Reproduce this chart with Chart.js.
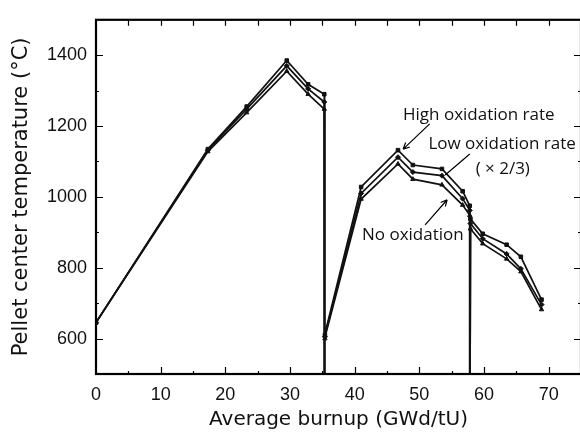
<!DOCTYPE html>
<html>
<head>
<meta charset="utf-8">
<script src="https://cdn.jsdelivr.net/npm/chart.js@4.4.0/dist/chart.umd.min.js"></script>
<style>
  html, body { margin: 0; padding: 0; overflow: hidden; background: #fff; }
  #wrap { position: absolute; left: 0; top: 0; }
</style>
</head>
<body>
<div id="wrap"><canvas id="chart1" width="586" height="435"></canvas></div>
<script>
// burnup (GWd/tU) and pellet center temperature (°C); 0 = shutdown at reload
const burnup = [0, 17.3, 23.3, 29.5, 32.8, 35.3, 35.3, 35.4, 41, 46.7, 49, 53.5, 56.7, 57.8, 57.8, 57.9, 59.8, 63.5, 65.7, 68.9];
const highOx = [645, 1135, 1255, 1385, 1318, 1290, 0, 610, 1028, 1132, 1090, 1079, 1016, 975, 0, 938, 896, 865, 831, 710];
const lowOx  = [645, 1132, 1248, 1370, 1305, 1268, 0, 605, 1010, 1112, 1070, 1060, 995, 962, 0, 925, 882, 839, 797, 696];
const noOx   = [645, 1128, 1238, 1355, 1290, 1248, 0, 600, 994, 1093, 1050, 1034, 977, 948, 0, 910, 868, 825, 789, 682];

const xTicks = [0, 10, 20, 30, 40, 50, 60, 70];
const yTicks = [600, 800, 1000, 1200, 1400];

// text notes in data units
const notes = [
  { text: 'High oxidation rate', x: 59.2, y: 1231 },
  { text: 'Low oxidation rate', x: 62.8, y: 1149 },
  { text: '( × 2/3)', x: 62.9, y: 1079 },
  { text: 'No oxidation', x: 49.0, y: 893 }
];
const arrows = [
  { from: [51.6, 1206], to: [47.5, 1135], head: true },
  { from: [57.8, 1121], to: [54.0, 1062], head: false },
  { from: [50.9, 921], to: [54.3, 992], head: true }
];

let pts = (ys) => burnup.map((b, i) => ({ x: b, y: ys[i] }));

let serie = (label, ys, style) => ({
  label: label,
  data: pts(ys),
  borderColor: '#111',
  backgroundColor: '#111',
  borderWidth: 1.7,
  pointStyle: style,
  pointRadius: 2.5,
  pointBorderWidth: 1,
  tension: 0
});

const frameTicks = {
  id: 'frameTicks',
  afterDatasetsDraw(chart) {
    const { ctx, chartArea: a, scales: { x, y } } = chart;
    ctx.save();
    ctx.strokeStyle = '#000';
    ctx.lineWidth = 1.2;
    ctx.beginPath();
    for (let v = 5; v < 75; v += 5) {
      const px = Math.round(x.getPixelForValue(v)) + 0.5;
      const len = v % 10 === 0 ? 7 : 3;
      ctx.moveTo(px, a.bottom); ctx.lineTo(px, a.bottom - len);
      ctx.moveTo(px, a.top); ctx.lineTo(px, a.top + 6);
    }
    for (let v = 600; v < 1500; v += 100) {
      const py = Math.round(y.getPixelForValue(v)) + 0.5;
      const len = v % 200 === 0 ? 7 : 3;
      ctx.moveTo(a.left, py); ctx.lineTo(a.left + len, py);
      ctx.moveTo(a.right, py); ctx.lineTo(a.right - len, py);
    }
    ctx.stroke();
    ctx.lineWidth = 2.2;
    ctx.strokeRect(a.left, a.top, a.right - a.left, a.bottom - a.top);

    // notes
    ctx.fillStyle = '#111';
    ctx.font = '17px "Open Sans"';
    ctx.textAlign = 'center';
    ctx.textBaseline = 'middle';
    notes.forEach(n => ctx.fillText(n.text, x.getPixelForValue(n.x), y.getPixelForValue(n.y)));

    ctx.lineWidth = 1.2;
    arrows.forEach(ar => {
      const x0 = x.getPixelForValue(ar.from[0]), y0 = y.getPixelForValue(ar.from[1]);
      const x1 = x.getPixelForValue(ar.to[0]), y1 = y.getPixelForValue(ar.to[1]);
      ctx.beginPath();
      ctx.moveTo(x0, y0); ctx.lineTo(x1, y1);
      if (ar.head) {
        const ang = Math.atan2(y1 - y0, x1 - x0);
        const h = 7;
        ctx.moveTo(x1, y1);
        ctx.lineTo(x1 - h * Math.cos(ang - 0.45), y1 - h * Math.sin(ang - 0.45));
        ctx.moveTo(x1, y1);
        ctx.lineTo(x1 - h * Math.cos(ang + 0.45), y1 - h * Math.sin(ang + 0.45));
      }
      ctx.stroke();
    });
    ctx.restore();
  }
};

const ctx = document.getElementById('chart1');
const chart = new Chart(ctx, {
  type: 'line',
  data: {
    datasets: [
      serie('High oxidation rate', highOx, 'rect'),
      serie('Low oxidation rate (×2/3)', lowOx, 'rectRot'),
      serie('No oxidation', noOx, 'triangle')
    ]
  },
  options: {
    responsive: false,
    devicePixelRatio: 1,
    animation: false,
    layout: { padding: { top: 17, right: 1, left: 0, bottom: 0 } },
    plugins: { legend: { display: false }, tooltip: { enabled: false } },
    scales: {
      x: {
        type: 'linear',
        min: 0,
        max: 75,
        afterBuildTicks: (s) => { s.ticks = xTicks.map(v => ({ value: v })); },
        afterFit: (s) => { s.height = 61; s.paddingLeft = 0; s.paddingRight = 0; },
        grid: { display: false, drawTicks: false },
        border: { display: false },
        ticks: { color: '#111', padding: 10, maxRotation: 0, font: { family: '"Liberation Sans"', size: 18 } },
        title: {
          display: true,
          text: 'Average burnup (GWd/tU)',
          color: '#111',
          padding: { top: 0, bottom: 3 },
          font: { family: '"DejaVu Sans"', size: 20 }
        }
      },
      y: {
        min: 500,
        max: 1500,
        afterBuildTicks: (s) => { s.ticks = yTicks.map(v => ({ value: v })); },
        afterFit: (s) => { s.width = 96; },
        grid: { display: false, drawTicks: false },
        border: { display: false },
        ticks: { color: '#111', padding: 9, callback: (v) => String(v), font: { family: '"Liberation Sans"', size: 18 } },
        title: {
          display: true,
          text: 'Pellet center temperature (°C)',
          color: '#111',
          padding: { top: 9, bottom: 0 },
          font: { family: '"DejaVu Sans"', size: 21 }
        }
      }
    }
  },
  plugins: [frameTicks]
});
</script>
</body>
</html>
